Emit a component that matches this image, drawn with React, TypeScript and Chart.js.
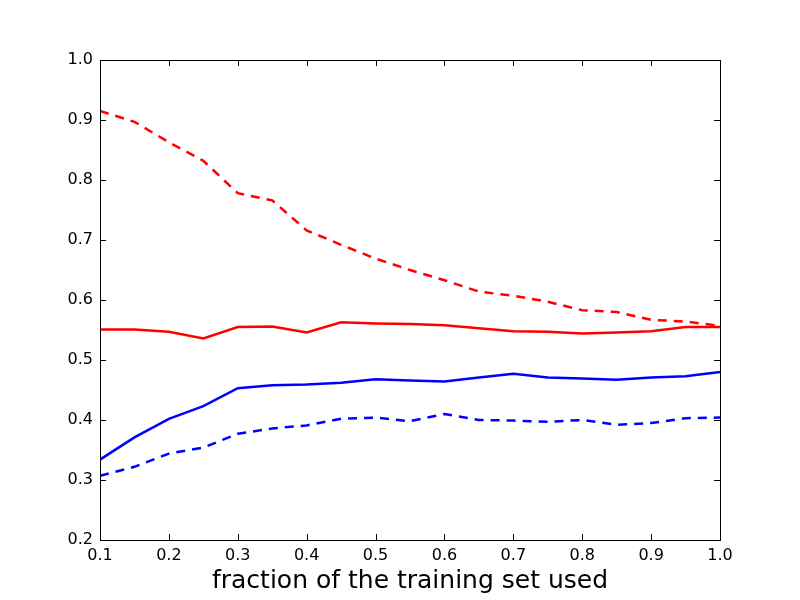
import { useEffect, useRef } from 'react';
import Chart from 'chart.js/auto';

// fraction of the training set used
const fractions = [0.1, 0.15, 0.2, 0.25, 0.3, 0.35, 0.4, 0.45, 0.5, 0.55, 0.6, 0.65, 0.7, 0.75, 0.8, 0.85, 0.9, 0.95, 1.0];

const redDashed = [0.915, 0.897, 0.863, 0.832, 0.778, 0.766, 0.716, 0.692, 0.669, 0.65, 0.633, 0.614, 0.607, 0.597, 0.583, 0.58, 0.567, 0.564, 0.557];
const redSolid = [0.551, 0.551, 0.547, 0.536, 0.555, 0.556, 0.546, 0.563, 0.561, 0.56, 0.558, 0.553, 0.548, 0.547, 0.544, 0.546, 0.548, 0.555, 0.555];
const blueSolid = [0.334, 0.371, 0.402, 0.423, 0.453, 0.458, 0.459, 0.462, 0.468, 0.466, 0.464, 0.471, 0.477, 0.471, 0.469, 0.467, 0.471, 0.473, 0.48];
const blueDashed = [0.307, 0.322, 0.344, 0.354, 0.377, 0.386, 0.391, 0.402, 0.404, 0.398, 0.41, 0.4, 0.399, 0.397, 0.4, 0.392, 0.395, 0.403, 0.404];

const xTicks = [0.1, 0.2, 0.3, 0.4, 0.5, 0.6, 0.7, 0.8, 0.9, 1.0];
const yTicks = [0.2, 0.3, 0.4, 0.5, 0.6, 0.7, 0.8, 0.9, 1.0];

const FONT = "'DejaVu Sans', sans-serif";

const toPoints = (ys: number[]) => fractions.map((x, i) => ({ x, y: ys[i] }));

// matplotlib style frame with inward ticks on every side
const framePlugin = {
  id: 'frame',
  afterDatasetsDraw(chart: any) {
    const { ctx, chartArea } = chart;
    const { left, right, top, bottom } = chartArea;
    const xs = chart.scales.x;
    const ys = chart.scales.y;
    const len = 6;
    ctx.save();
    ctx.strokeStyle = '#000';
    ctx.lineWidth = 1;
    ctx.beginPath();
    xTicks.forEach((t) => {
      const px = Math.round(xs.getPixelForValue(t)) + 0.5;
      ctx.moveTo(px, bottom);
      ctx.lineTo(px, bottom - len);
      ctx.moveTo(px, top);
      ctx.lineTo(px, top + len);
    });
    yTicks.forEach((t) => {
      const py = Math.round(ys.getPixelForValue(t)) + 0.5;
      ctx.moveTo(left, py);
      ctx.lineTo(left + len, py);
      ctx.moveTo(right, py);
      ctx.lineTo(right - len, py);
    });
    ctx.stroke();
    ctx.strokeRect(Math.round(left) + 0.5, Math.round(top) + 0.5, Math.round(right - left), Math.round(bottom - top));
    ctx.restore();
  },
};

const App = () => {
  const canvasRef = useRef<HTMLCanvasElement>(null);

  useEffect(() => {
    if (!canvasRef.current) return;
    const line = (data: number[], color: string, dashed: boolean) => ({
      data: toPoints(data),
      borderColor: color,
      backgroundColor: color,
      borderWidth: 2.5,
      borderDash: dashed ? [9, 7] : [],
      borderCapStyle: 'butt' as const,
      pointRadius: 0,
      tension: 0,
      fill: false,
    });

    const chart = new Chart(canvasRef.current, {
      type: 'line',
      data: {
        datasets: [
          line(redDashed, '#ff0000', true),
          line(redSolid, '#ff0000', false),
          line(blueSolid, '#0000ff', false),
          line(blueDashed, '#0000ff', true),
        ],
      },
      plugins: [framePlugin],
      options: {
        responsive: false,
        animation: false,
        layout: { padding: { left: 0, right: 80, top: 60, bottom: 0 } },
        plugins: {
          legend: { display: false },
          tooltip: { enabled: false },
        },
        scales: {
          x: {
            type: 'linear',
            min: 0.1,
            max: 1.0,
            afterFit: (s: any) => {
              s.height = 60;
            },
            afterBuildTicks: (s: any) => {
              s.ticks = xTicks.map((v) => ({ value: v }));
            },
            grid: { display: false, drawTicks: false },
            border: { display: false },
            ticks: {
              padding: 6,
              color: '#000',
              font: { family: FONT, size: 16 },
              maxRotation: 0,
              autoSkip: false,
              callback: (v: any) => Number(v).toFixed(1),
            },
            title: {
              display: true,
              text: 'fraction of the training set used',
              color: '#000',
              font: { family: FONT, size: 25 },
              padding: { top: 0, bottom: 4 },
            },
          },
          y: {
            type: 'linear',
            min: 0.2,
            max: 1.0,
            afterFit: (s: any) => {
              s.width = 100;
            },
            afterBuildTicks: (s: any) => {
              s.ticks = yTicks.map((v) => ({ value: v }));
            },
            grid: { display: false, drawTicks: false },
            border: { display: false },
            ticks: {
              padding: 7,
              color: '#000',
              font: { family: FONT, size: 16 },
              autoSkip: false,
              callback: (v: any) => Number(v).toFixed(1),
            },
          },
        },
      },
    });

    return () => {
      chart.destroy();
    };
  }, []);

  return (
    <div style={{ position: 'fixed', left: 0, top: 0, width: 800, height: 600, background: '#fff' }}>
      <canvas ref={canvasRef} width={800} height={600} />
    </div>
  );
};

export default App;
